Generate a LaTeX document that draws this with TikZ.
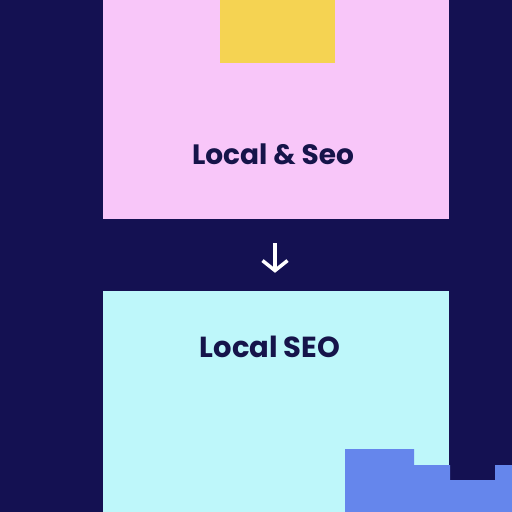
\documentclass[tikz,border=0pt]{standalone}
\usepackage{fontspec}
\setmainfont{Poppins}
\usepackage{xcolor}
\usetikzlibrary{arrows.meta}
\definecolor{navy}{HTML}{141152}
\definecolor{pinkbox}{HTML}{F8C6F9}
\definecolor{cyanbox}{HTML}{BEF7FA}
\definecolor{yellowbox}{HTML}{F5D352}
\definecolor{bluebox}{HTML}{6586EC}
\definecolor{inktext}{HTML}{16144A}

\tikzset{
  panel/.style={rectangle, inner sep=0pt, minimum width=346pt},
  label/.style={text=inktext, font=\fontsize{28}{32}\selectfont\bfseries, inner sep=0pt, anchor=base},
}

\begin{document}
\begin{tikzpicture}[x=1pt,y=-1pt]
            % Background
            \fill[navy] (0,0) rectangle (512,512);
            \useasboundingbox (0,0) rectangle (512,512);

            % Panels
            \node[panel, fill=pinkbox, minimum height=219pt] (top) at (276,109.5) {};
            \node[panel, fill=cyanbox, minimum height=221pt] (bottom) at (276,401.5) {};

            % Yellow tab
            \fill[yellowbox] (220,0) rectangle (335,63);

            % Blue steps
            \fill[bluebox] (345,449) -- (414,449) -- (414,465) -- (450,465) -- (450,480)
                -- (495,480) -- (495,465) -- (512,465) -- (512,512) -- (345,512) -- cycle;

            % Labels
            \node[label] (toplabel) at (273,164) {Local \& Seo};
            \node[label, font=\fontsize{29}{33}\selectfont\bfseries] (bottomlabel) at (270,357) {Local SEO};

            % Arrow
            \draw[white, line width=3.5pt, shorten <=24pt, shorten >=18pt,
                  -{Straight Barb[length=10pt,width=25pt,line width=3.5pt]}]
                (top.south -| 275,0) -- (bottom.north -| 275,0);
        \end{tikzpicture}
\end{document}
